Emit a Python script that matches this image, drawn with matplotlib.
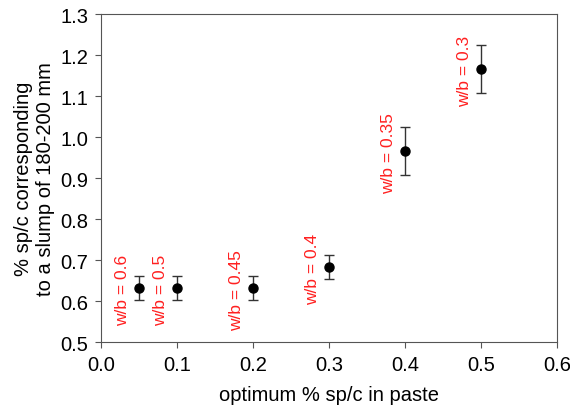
import numpy as np
import matplotlib.pyplot as plt

plt.rcParams['font.family'] = ['Liberation Sans', 'DejaVu Sans']

# дані
sp_paste = [0.05, 0.1, 0.2, 0.3, 0.4, 0.5]
sp_slump = [0.633, 0.633, 0.633, 0.683, 0.967, 1.167]
sp_err = [0.029, 0.029, 0.029, 0.029, 0.058, 0.058]
wb_labels = ['w/b = 0.6', 'w/b = 0.5', 'w/b = 0.45', 'w/b = 0.4', 'w/b = 0.35', 'w/b = 0.3']

fig = plt.figure(figsize=(5.7, 4.14), dpi=100)
ax = fig.add_axes([0.177, 0.171, 0.8, 0.792])

ax.errorbar(sp_paste, sp_slump, yerr=sp_err, fmt='o', color='black', ms=6.5,
            ecolor='#333333', elinewidth=1, capsize=3.6, capthick=1)

# підписи w/b зліва від точок
for x, y, lab in zip(sp_paste, sp_slump, wb_labels):
    ax.annotate(lab, (x, y), xytext=(-11.5, -1), textcoords='offset points',
                rotation=90, color='#ff2020', fontsize=12.5, ha='center', va='center')

ax.set_xlim(0, 0.6)
ax.set_ylim(0.5, 1.3)
ax.set_xticks(np.arange(0, 0.61, 0.1))
ax.set_yticks(np.arange(0.5, 1.31, 0.1))
ax.xaxis.set_major_formatter(plt.FormatStrFormatter('%.1f'))
ax.yaxis.set_major_formatter(plt.FormatStrFormatter('%.1f'))
ax.tick_params(direction='out', length=4, labelsize=14.5, color='#555555', pad=5)
for s in ax.spines.values():
    s.set_color('#555555')

ax.set_xlabel('optimum % sp/c in paste', fontsize=14.5, labelpad=8)
ax.set_ylabel('% sp/c corresponding\nto a slump of 180-200 mm', fontsize=14.5, labelpad=4)

fig.savefig('out.png')
